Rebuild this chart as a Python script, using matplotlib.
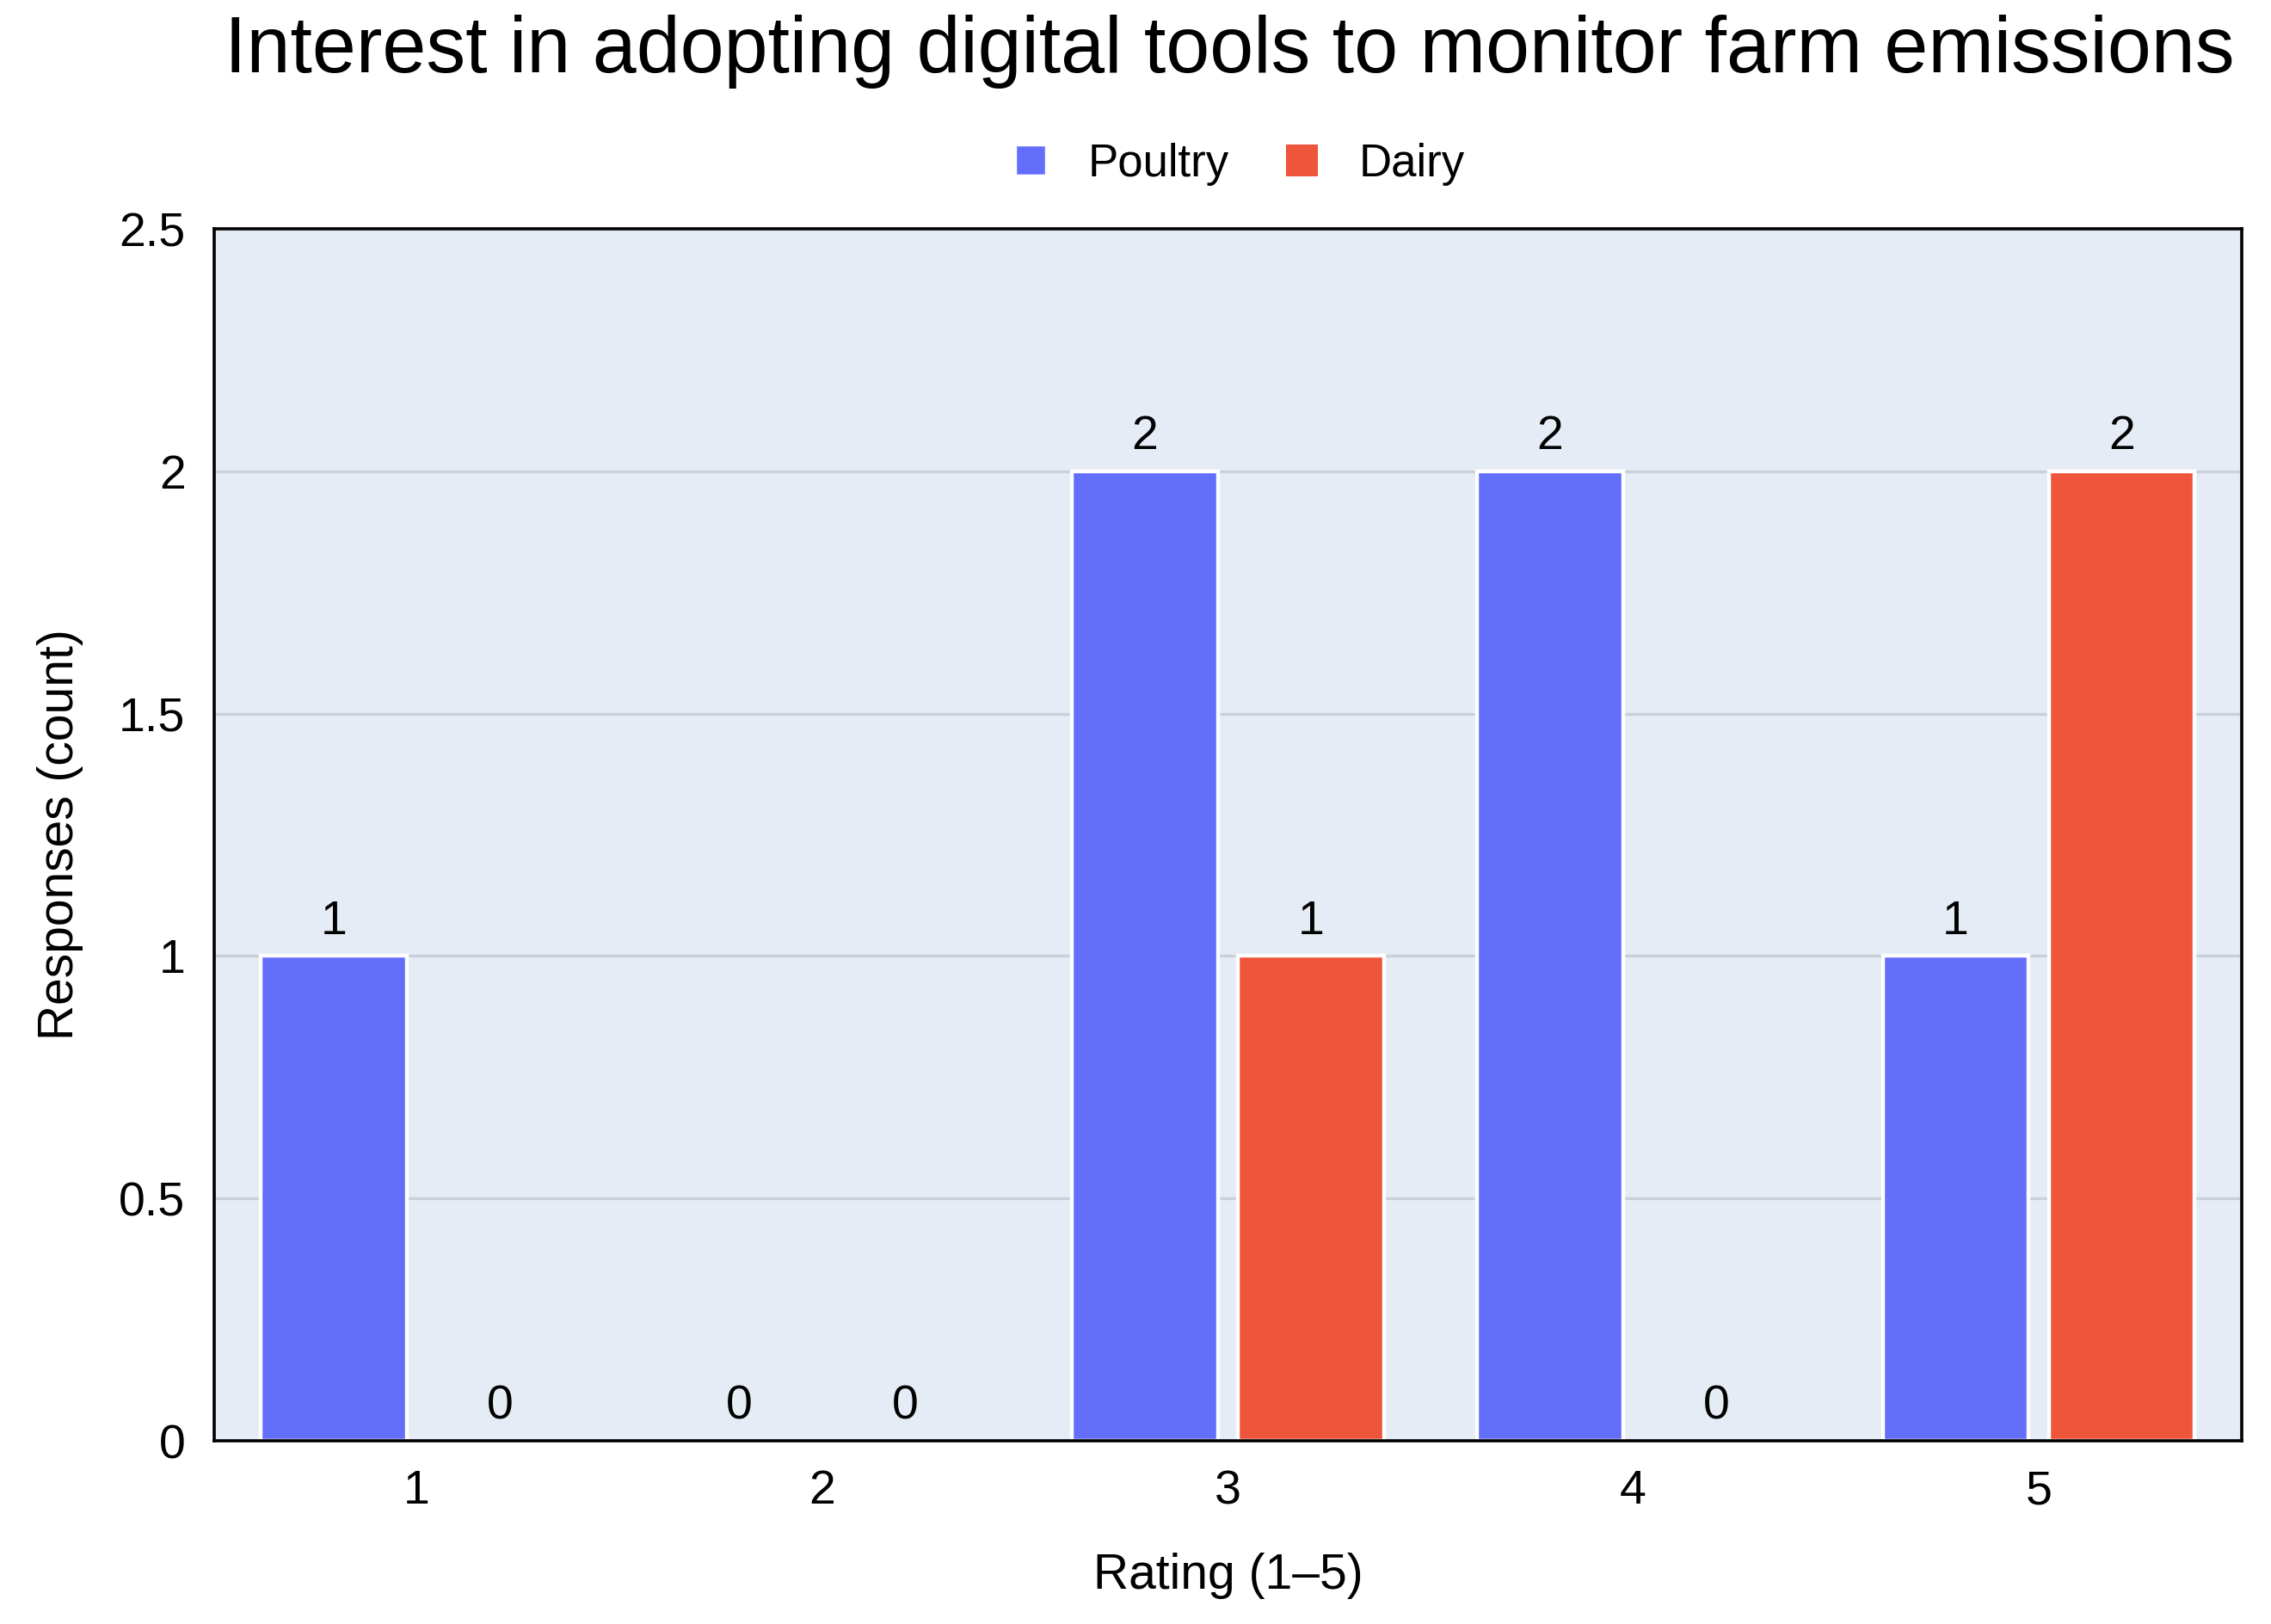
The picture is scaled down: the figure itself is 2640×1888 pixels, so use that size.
import numpy as np
import matplotlib
matplotlib.use("Agg")
import matplotlib.pyplot as plt

plt.rcParams['font.family'] = ['Liberation Sans', 'DejaVu Sans']

ratings = [1, 2, 3, 4, 5]
poultry = [1, 0, 2, 2, 1]
dairy = [0, 0, 1, 0, 2]
series_names = ['Poultry', 'Dairy']
colors = ['#636EFA', '#EF553B']

fig = plt.figure(figsize=(13.2, 9.44), dpi=200)
ax = fig.add_axes([0.0943, 0.1128, 0.8927, 0.7463])
ax.set_facecolor('#E5ECF6')

x = np.array(ratings, dtype=float)
width = 0.36
offsets = [-0.205, 0.205]
for vals, name, col, off in zip([poultry, dairy], series_names, colors, offsets):
    bars = ax.bar(x + off, vals, width=width, color=col, edgecolor='white',
                  linewidth=1.6, label=name, zorder=3)
    for b, v in zip(bars, vals):
        if v == 0:
            b.set_linewidth(0)
        ax.annotate(str(v), (b.get_x() + b.get_width() / 2, v),
                    xytext=(0, 5), textcoords='offset points',
                    ha='center', va='bottom', fontsize=20, color='black', zorder=4)

ax.set_xlim(0.5, 5.5)
ax.set_ylim(0, 2.5)
ax.set_xticks(ratings)
ax.set_xticklabels([str(r) for r in ratings])
ax.set_yticks([0, 0.5, 1, 1.5, 2, 2.5])
ax.set_yticklabels(['0', '0.5', '1', '1.5', '2', '2.5'])
ax.tick_params(axis='both', length=0, labelsize=20, pad=12)
ax.grid(axis='y', color='#C8D0DA', linewidth=1.2, zorder=0)
ax.set_axisbelow(True)
for s in ax.spines.values():
    s.set_color('black')
    s.set_linewidth(1.3)
    s.set_zorder(5)

ax.set_xlabel('Rating (1–5)', fontsize=20.5, labelpad=16)
ax.set_ylabel('Responses (count)', fontsize=20.5, labelpad=15)

fig.text(0.5415, 0.968, 'Interest in adopting digital tools to monitor farm emissions',
         ha='center', va='center', fontsize=33)

ax.legend(loc='center', bbox_to_anchor=(0.506, 1.053), ncol=2, frameon=False,
          fontsize=19, handlelength=0.7, handleheight=0.7, columnspacing=1.25,
          handletextpad=0.9)

fig.savefig('out.png', dpi=200)
